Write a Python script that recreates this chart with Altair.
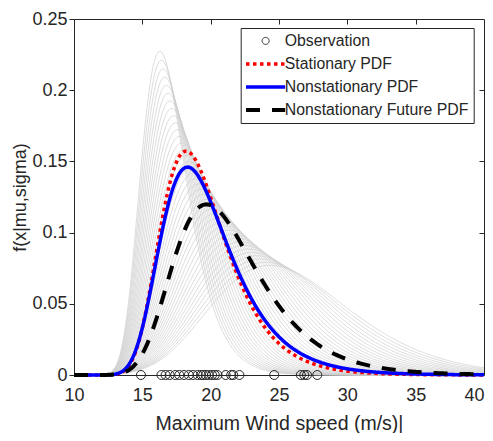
import numpy as np
import pandas as pd
import altair as alt

# ---------------- values ----------------
# observed annual maximum wind speeds (m/s), drawn at f = 0
obs_speed = [14.9, 16.4, 16.7, 17.0, 17.4, 17.7, 18.05, 18.4, 18.7, 19.05,
             19.3, 19.45, 19.65, 19.85, 20.1, 20.3, 20.5, 21.1, 21.5, 21.65,
             22.1, 24.65, 26.6, 26.85, 27.05, 27.8]

series_names = ["Observation", "Stationary PDF", "Nonstationary PDF",
                "Nonstationary Future PDF"]
series_colors = ["#262626", "#ff0000", "#0000ff", "#000000"]
series_dash = [[1, 0], [3.5, 3.5], [1, 0], [14, 12]]
series_width = [1, 3.5, 3.5, 4]
series_shape = ["circle", "M-5.6,0L5.6,0", "M-5.6,0L5.6,0", "M-5.6,0L5.6,0"]

# GEV parameters (shape k, location mu, scale sigma) of the highlighted PDFs
pdf_names = series_names[1:]
pdf_k = [0.0, 0.02, 0.0]
pdf_mu = [18.2, 18.36, 19.7]
pdf_sigma = [2.34, 2.52, 3.07]

# nonstationary GEV model: one grey curve per year
years = list(range(1, 41))
sigma_first, sigma_last = 1.62, 4.8   # scale in first / last year
k_first, k_last = -0.05, -0.1         # shape in first / last year
mu_first, mu_per_sigma = 16.2, 2.4    # location follows the scale

x_ticks = [10, 15, 20, 25, 30, 35, 40]
y_ticks = [0, 0.05, 0.1, 0.15, 0.2, 0.25]
x_inner_ticks = [15, 20, 25, 30, 35]
y_inner_ticks = [0.05, 0.1, 0.15, 0.2]

speed_grid = np.round(np.linspace(10, 40, 401), 4)


def gev_pdf(x, k, mu, sigma):
    z = (x - mu) / sigma
    with np.errstate(all="ignore"):
        if abs(k) < 1e-12:
            t = np.exp(-z)
        else:
            arg = 1 + k * z
            safe = np.where(arg > 0, arg, 1.0)
            t = np.where(arg > 0, safe ** (-1.0 / k), np.inf if k > 0 else 0.0)
        f = t ** (k + 1) * np.exp(-t) / sigma
    return np.nan_to_num(f)


gray_rows = []
n = len(years)
for i, yr in enumerate(years):
    frac = i / (n - 1)
    sig = sigma_first * (sigma_last / sigma_first) ** frac
    kk = k_first + (k_last - k_first) * frac
    mu = mu_first + mu_per_sigma * (sig - sigma_first)
    f = gev_pdf(speed_grid, kk, mu, sig)
    for xv, fv in zip(speed_grid, f):
        gray_rows.append({"x": float(xv), "f": float(fv), "year": yr})
gray_df = pd.DataFrame(gray_rows)

pdf_rows = []
for name, k, mu, sig in zip(pdf_names, pdf_k, pdf_mu, pdf_sigma):
    f = gev_pdf(speed_grid, k, mu, sig)
    for xv, fv in zip(speed_grid, f):
        pdf_rows.append({"x": float(xv), "f": float(fv), "series": name})
pdf_df = pd.DataFrame(pdf_rows)

obs_df = pd.DataFrame({"speed": obs_speed, "zero": [0.0] * len(obs_speed),
                       "series": ["Observation"] * len(obs_speed)})

# ---------------- chart ----------------
W, H = 410, 356
x_scale = alt.Scale(domain=[10, 40], nice=False, zero=False)
y_scale = alt.Scale(domain=[0, 0.25], nice=False)

x_axis = alt.Axis(values=x_ticks, format="d", title="Maximum Wind speed (m/s)|",
                  orient="bottom", ticks=False, domain=False, grid=False,
                  labelFontSize=18, labelPadding=11, labelFlush=False,
                  labelAlign=alt.condition("datum.value == 40", alt.value("right"), alt.value("center")),
                  titleFontSize=19.5, titleY=54, titleBaseline="alphabetic")
y_axis = alt.Axis(values=y_ticks, format="~g", title="f(x|mu,sigma)",
                  orient="left", tickSize=5, labelPadding=2, domain=False,
                  grid=False, labelFontSize=18, labelFlush=False,
                  titleFontSize=18, titleX=-54, titleBaseline="middle")

color_enc = alt.Color("series:N", scale=alt.Scale(domain=series_names, range=series_colors),
                      legend=alt.Legend(title=None))
dash_enc = alt.StrokeDash("series:N", scale=alt.Scale(type="ordinal", domain=series_names, range=series_dash),
                          legend=alt.Legend(title=None))
width_enc = alt.StrokeWidth("series:N", scale=alt.Scale(type="ordinal", domain=series_names, range=series_width),
                            legend=alt.Legend(title=None))
shape_enc = alt.Shape("series:N", scale=alt.Scale(type="ordinal", domain=series_names, range=series_shape),
                      legend=alt.Legend(title=None))

gray = alt.Chart(gray_df).mark_line(color="#cdcdcd", strokeWidth=0.7).encode(
    x=alt.X("x:Q", scale=x_scale, axis=x_axis),
    y=alt.Y("f:Q", scale=y_scale, axis=y_axis),
    detail="year:N",
)

line_layers = []
for name in pdf_names:
    line_layers.append(
        alt.Chart(pdf_df).transform_filter(alt.datum.series == name).mark_line().encode(
            x=alt.X("x:Q", scale=x_scale, axis=None),
            y=alt.Y("f:Q", scale=y_scale, axis=None),
            color=color_enc, strokeDash=dash_enc, strokeWidth=width_enc,
        )
    )

obs = alt.Chart(obs_df).mark_point(filled=False, size=81, strokeWidth=1, opacity=1).encode(
    x=alt.X("speed:Q", scale=x_scale, axis=None),
    y=alt.Y("zero:Q", scale=y_scale, axis=None),
    color=color_enc, shape=shape_enc,
)

inner = alt.Chart(obs_df).mark_point(opacity=0).encode(
    x=alt.X("speed:Q", scale=x_scale,
            axis=alt.Axis(orient="bottom", offset=-H, values=x_inner_ticks, labels=False,
                          domain=False, grid=False, tickSize=5, title=None)),
    y=alt.Y("zero:Q", scale=y_scale,
            axis=alt.Axis(orient="left", offset=-W, values=y_inner_ticks, labels=False,
                          domain=False, grid=False, tickSize=5, title=None)),
)

chart = alt.layer(gray, *line_layers, obs, inner).resolve_axis(
    x="independent", y="independent"
).properties(
    width=W, height=H,
    autosize=alt.AutoSizeParams(type="none"),
    padding={"left": 66, "top": 11, "right": 1, "bottom": 58},
).configure_view(
    stroke="#262626", strokeWidth=1
).configure_axis(
    labelFont="Liberation Sans", titleFont="Liberation Sans",
    labelColor="#262626", titleColor="#262626", tickColor="#262626",
    titleFontWeight="normal",
).configure_legend(
    orient="none", legendX=166.7, legendY=9,
    fillColor="white", strokeColor="#262626", padding=5,
    labelFont="Liberation Sans", labelFontSize=15.8, labelColor="#262626",
    labelLimit=400, symbolSize=49, symbolOffset=12, labelOffset=11.3,
    rowPadding=6, symbolFillColor="transparent",
)

chart.save("out.html", embed_options={"renderer": "svg", "actions": False})
